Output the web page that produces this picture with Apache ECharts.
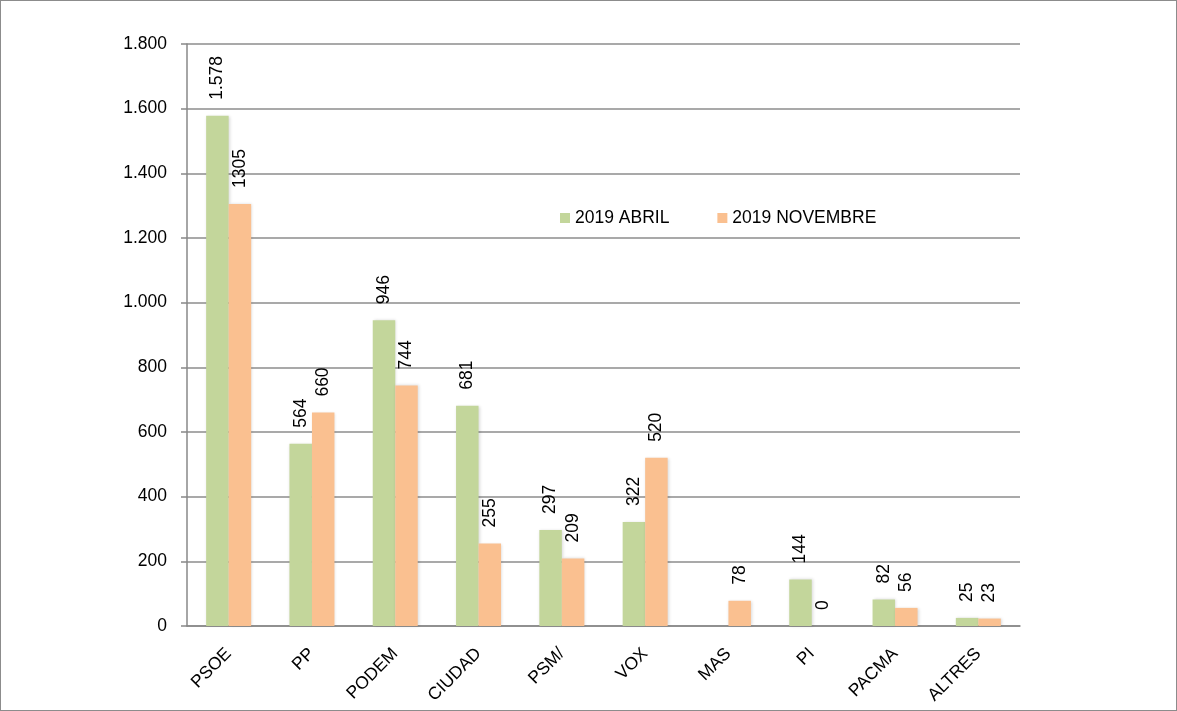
<!DOCTYPE html>
<html>
<head>
<meta charset="utf-8">
<script src="https://cdn.jsdelivr.net/npm/echarts@6/dist/echarts.min.js"></script>
<style>
  html, body { margin: 0; padding: 0; background: #fff; overflow: hidden; }
  #frame { position: relative; width: 1177px; height: 711px; box-sizing: border-box; border: 1.5px solid #8c8c8c; }
  #chart { position: absolute; left: -1.5px; top: -1.5px; width: 1177px; height: 711px; }
</style>
</head>
<body>
<div id="frame"><div id="chart"></div></div>
<script>
const partidos = ['PSOE', 'PP', 'PODEM', 'CIUDAD', 'PSM/', 'VOX', 'MAS', 'PI', 'PACMA', 'ALTRES'];
const abril = [1578, 564, 946, 681, 297, 322, null, 144, 82, 25];
const novembre = [1305, 660, 744, 255, 209, 520, 78, 0, 56, 23];

// punto como separador de miles
function miles(v) {
  return String(v).replace(/\B(?=(\d{3})+(?!\d))/g, '.');
}

const txt = { fontFamily: 'Liberation Sans, Arial, sans-serif', color: '#000', fontSize: 17.5 };

let myChart = echarts.init(document.getElementById('chart'));
myChart.setOption({
  animation: false,
  legend: {
    left: 555, top: 204, itemWidth: 10, itemHeight: 10, itemGap: 48,
    icon: 'rect',
    textStyle: txt,
    data: ['2019 ABRIL', '2019 NOVEMBRE']
  },
  grid: { left: 187, right: 157, top: 44, bottom: 85 },
  xAxis: {
    type: 'category',
    data: partidos,
    axisLine: { lineStyle: { color: '#888', width: 1.5 } },
    axisTick: { length: 6, lineStyle: { color: '#888', width: 1.5 } },
    axisLabel: Object.assign({ rotate: 45, margin: 25 }, txt)
  },
  yAxis: {
    type: 'value', min: 0, max: 1800, interval: 200,
    axisLine: { show: true, lineStyle: { color: '#888', width: 1.5 } },
    axisTick: { show: true, inside: false, length: 6, lineStyle: { color: '#888', width: 1.5 } },
    splitLine: { lineStyle: { color: '#8c8c8c', width: 1.5 } },
    axisLabel: Object.assign({ margin: 20, formatter: miles }, txt)
  },
  series: [{
    name: '2019 ABRIL', type: 'bar', data: abril,
    barWidth: 22.5, barGap: '0%',
    itemStyle: { color: '#c3d69b', shadowColor: 'rgba(0,0,0,0.15)', shadowBlur: 3, shadowOffsetX: 1 },
    label: Object.assign({
      show: true, position: 'top', rotate: 90, align: 'left', verticalAlign: 'middle',
      distance: 16, formatter: p => miles(p.value)
    }, txt)
  }, {
    name: '2019 NOVEMBRE', type: 'bar', data: novembre,
    barWidth: 22.5,
    itemStyle: { color: '#fac090', shadowColor: 'rgba(0,0,0,0.15)', shadowBlur: 3, shadowOffsetX: 1 },
    label: Object.assign({
      show: true, position: 'top', rotate: 90, align: 'left', verticalAlign: 'middle',
      distance: 16, formatter: p => String(p.value)
    }, txt)
  }]
});
</script>
</body>
</html>
